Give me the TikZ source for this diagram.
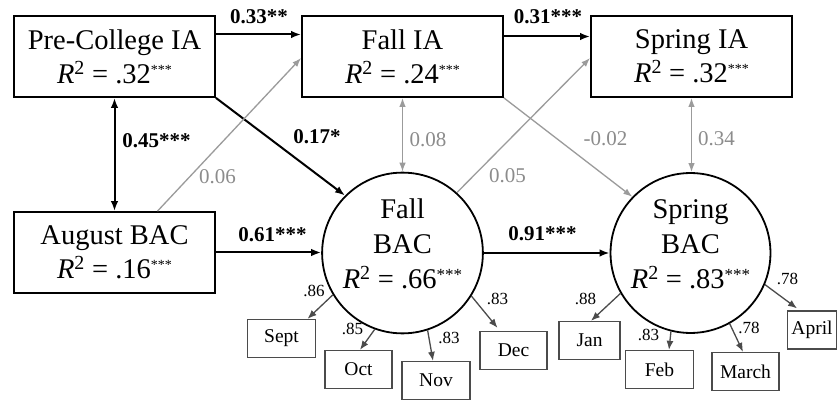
\documentclass[tikz,border=0pt]{standalone}
\usepackage{fontspec}
\setmainfont{Liberation Serif}
\usetikzlibrary{arrows.meta,calc}
\definecolor{lgray}{RGB}{155,155,155}
\definecolor{lbl}{RGB}{140,140,140}
\definecolor{dgray}{RGB}{75,75,75}
\newcommand{\rsq}[1]{{\itshape R}\textsuperscript{2} = #1\raisebox{9pt}{\fontsize{14}{14}\selectfont ***}}
\newcommand{\rsqc}[1]{{\itshape R}\textsuperscript{2} = #1\raisebox{8pt}{\fontsize{17}{17}\selectfont ***}}
\begin{document}
\begin{tikzpicture}[x=1pt,y=-1pt,
  bigbox/.style={draw=black,line width=1.8pt,minimum width=201pt,minimum height=81pt,inner sep=0pt,align=center,font=\fontsize{28.5}{34}\selectfont},
  latent/.style={circle,draw=black,line width=1.8pt,minimum size=143pt,inner sep=0pt,align=center,font=\fontsize{28.5}{35}\selectfont},
  ind/.style={draw=dgray,line width=1.3pt,minimum height=38pt,inner sep=0pt,font=\fontsize{19.5}{22}\selectfont},
  strong/.style={draw=black,line width=2pt,-{Latex[length=10pt,width=7.5pt]}},
  strongboth/.style={draw=black,line width=2pt,{Latex[length=10pt,width=7.5pt]}-{Latex[length=10pt,width=7.5pt]}},
  weak/.style={draw=lgray,line width=1.3pt,-{Latex[length=9pt,width=6.5pt]}},
  weakboth/.style={draw=lgray,line width=1.3pt,{Latex[length=9pt,width=6.5pt]}-{Latex[length=9pt,width=6.5pt]}},
  load/.style={draw=dgray,line width=1.3pt,-{Latex[length=9pt,width=7pt]}},
  blab/.style={font=\bfseries\fontsize{21}{24}\selectfont,inner sep=0pt},
  glab/.style={text=lbl,font=\fontsize{21}{24}\selectfont,inner sep=0pt},
  slab/.style={font=\fontsize{17}{20}\selectfont,inner sep=0pt},
]
\useasboundingbox (0,0) rectangle (838,403);
\fill[white] (0,0) rectangle (838,403);

% main variables
\node[bigbox] (pre) at (114.5,56.5) {Pre-College IA\\\rsq{.32}};
\node[bigbox] (fia) at (402.5,56.5) {Fall IA\\\rsq{.24}};
\node[bigbox] (sia) at (691.5,56.5) {Spring IA\\\rsq{.32}};
\node[bigbox] (aug) at (114.5,252.5) {August BAC\\\rsq{.16}};
\node[latent] (fbac) at (402.5,253) {Fall\\BAC\\\rsqc{.66}\rule[-18pt]{0pt}{18pt}};
\node[latent] (sbac) at (690.5,253) {Spring\\BAC\\\rsqc{.83}\rule[-18pt]{0pt}{18pt}};

% indicators
\node[ind,minimum width=68pt] (sept) at (281.5,338.5) {Sept};
\node[ind,minimum width=67pt] (oct) at (358.5,369.5) {Oct};
\node[ind,minimum width=68pt] (nov) at (436,380.5) {Nov};
\node[ind,minimum width=67pt] (dec) at (513.5,350.5) {Dec};
\node[ind,minimum width=61pt] (jan) at (589.5,340.5) {Jan};
\node[ind,minimum width=68pt] (feb) at (659.5,369.5) {Feb};
\node[ind,minimum width=67pt] (march) at (745.5,371.5) {March};
\node[ind,minimum width=49pt] (april) at (812,330) {April};

% structural paths
\draw[strong] ([yshift=22pt]pre.east) -- ([yshift=22pt]fia.west);
\draw[strong] ([yshift=20pt]fia.east) -- ([yshift=20pt]sia.west);
\draw[strongboth] (pre.south) -- (aug.north);
\draw[strong] (pre.south east) -- (fbac.135);
\draw[weak] ([xshift=43pt]aug.north) -- ([yshift=-1.5pt]fia.west);
\draw[strong] (aug.east) -- (aug.east -| fbac.west);
\draw[weakboth] (fia.south) -- (fbac.north);
\draw[weak] (fbac.48) -- ([yshift=-1.5pt]sia.west);
\draw[weak] (fia.south east) -- (sbac.136);
\draw[weakboth] (sia.south) -- (sia.south |- sbac.north);
\draw[strong] (fbac.east) -- (sbac.west);

% loadings
\draw[load] (fbac.211) -- ([xshift=26pt]sept.north);
\draw[load] (fbac.250) -- ([xshift=1.5pt]oct.north);
\draw[load] (fbac.288) -- ([xshift=-3pt]nov.north);
\draw[load] (fbac.328) -- ([xshift=-16pt,yshift=3pt]dec.north);
\draw[load] (sbac.210) -- ([xshift=1.5pt]jan.north);
\draw[load] (sbac.256) -- ([xshift=9.5pt]feb.north);
\draw[load] (sbac.299) -- ([xshift=-2.5pt]march.north);
\draw[load] (sbac.337) -- ([xshift=-15pt,yshift=2pt]april.north);

% path labels
\node[blab] (l1) at (259,17) {0.33**};
\node[blab] (l2) at (548,17) {0.31***};
\node[blab] (l3) at (156.5,141) {0.45***};
\node[blab] (l4) at (317,137) {0.17*};
\node[glab] (l5) at (217.5,177) {0.06};
\node[blab] (l6) at (272.5,235) {0.61***};
\node[glab] (l7) at (428,139.5) {0.08};
\node[glab] (l8) at (605.5,139) {-0.02};
\node[glab] (l9) at (716.5,139) {0.34};
\node[glab] (l10) at (507.5,176) {0.05};
\node[blab] (l11) at (542.5,234) {0.91***};

% loading labels
\node[slab] (k1) at (314,291) {.86};
\node[slab] (k2) at (352.5,329) {.85};
\node[slab] (k3) at (449,338) {.83};
\node[slab] (k4) at (497.5,299) {.83};
\node[slab] (k5) at (585.5,299) {.88};
\node[slab] (k6) at (648.5,335) {.83};
\node[slab] (k7) at (749,328) {.78};
\node[slab] (k8) at (787.5,279) {.78};
\end{tikzpicture}
\end{document}
